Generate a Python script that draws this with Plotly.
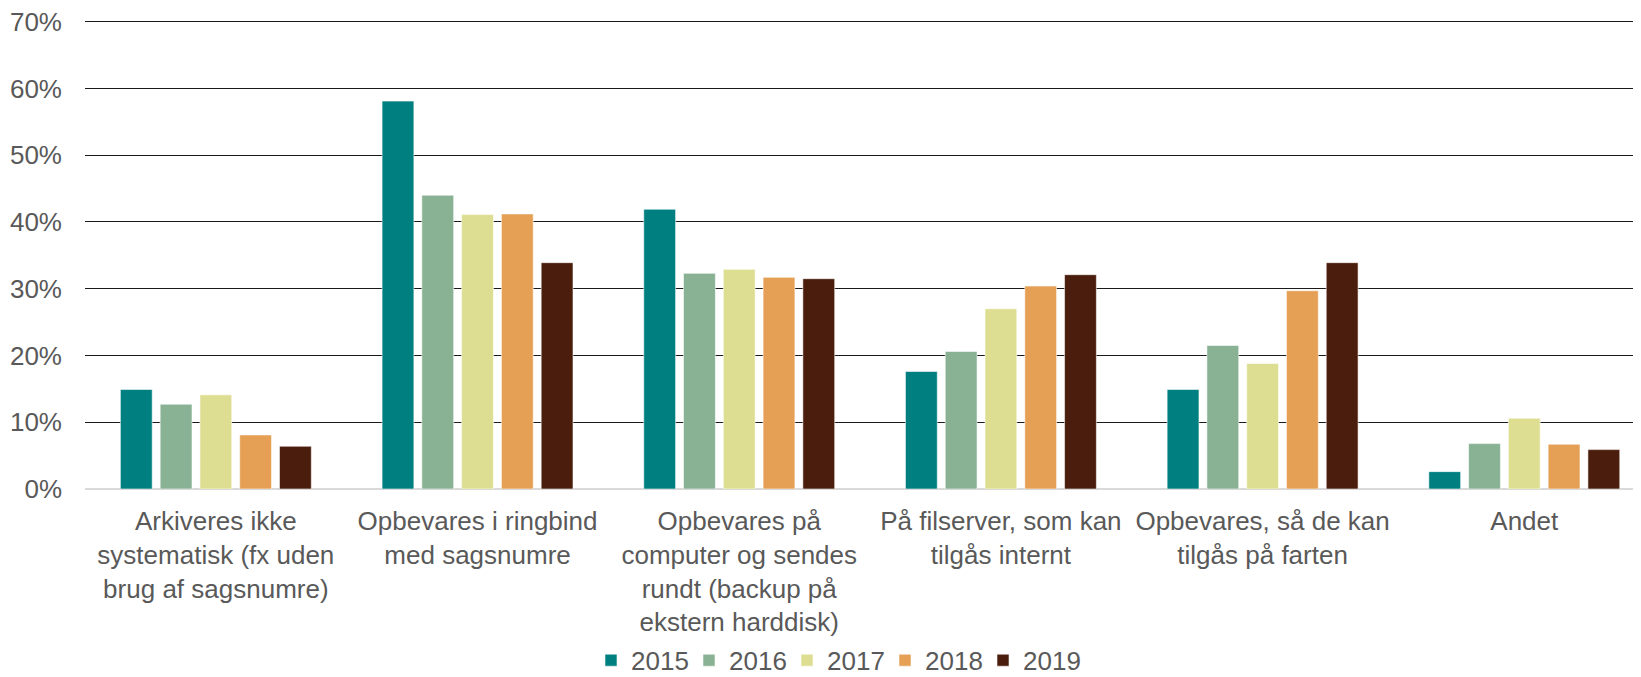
import plotly.graph_objects as go

categories = [
    "Arkiveres ikke<br>systematisk (fx uden<br>brug af sagsnumre)",
    "Opbevares i ringbind<br>med sagsnumre",
    "Opbevares på<br>computer og sendes<br>rundt (backup på<br>ekstern harddisk)",
    "På filserver, som kan<br>tilgås internt",
    "Opbevares, så de kan<br>tilgås på farten",
    "Andet",
]

years = ["2015", "2016", "2017", "2018", "2019"]

v2015 = [14.9, 58.1, 41.9, 17.6, 14.9, 2.6]
v2016 = [12.7, 44.0, 32.3, 20.6, 21.5, 6.8]
v2017 = [14.1, 41.1, 32.9, 27.0, 18.8, 10.6]
v2018 = [8.1, 41.2, 31.7, 30.4, 29.7, 6.7]
v2019 = [6.4, 33.9, 31.5, 32.1, 33.9, 5.9]

y_ticks = [0, 10, 20, 30, 40, 50, 60, 70]
y_labels = ["0%", "10%", "20%", "30%", "40%", "50%", "60%", "70%"]

series = [v2015, v2016, v2017, v2018, v2019]
colors = ["#007F80", "#89B193", "#DEDE93", "#E5A055", "#4A1D0C"]

fig = go.Figure()
for i, (year, vals, col) in enumerate(zip(years, series, colors)):
    fig.add_trace(go.Bar(
        x=categories, y=vals, name=year,
        marker=dict(color=col, line=dict(color="rgba(255,255,255,0.55)", width=1)),
        # tighter legend entries, last one wide enough not to get clipped
        legendwidth=62 if i == len(years) - 1 else 53,
    ))

# the page body keeps its default 8px margin, so the figure is 8px smaller
fig.update_layout(
    width=1633, height=669,
    margin=dict(l=77, r=0, t=7, b=188),
    plot_bgcolor="white", paper_bgcolor="white",
    barmode="group", bargap=0.24, bargroupgap=0.2,
    font=dict(family="Liberation Sans, Arial, sans-serif", size=26, color="#595959"),
    showlegend=True,
    legend=dict(orientation="h", x=0.3252, xanchor="left",
                yref="container", y=0.025, yanchor="middle",
                font=dict(size=26, color="#595959"), itemwidth=30, traceorder="normal"),
)

fig.update_yaxes(
    range=[0, 71], tickmode="array", tickvals=y_ticks, ticktext=y_labels,
    showgrid=True, gridcolor="#1a1a1a", gridwidth=1,
    zeroline=True, zerolinecolor="#D9D9D9", zerolinewidth=2,
    showline=False, ticklabelstandoff=22, automargin=False,
    ticklabeloverflow="allow",
)
fig.update_xaxes(
    range=[-0.5, 5.446], showgrid=False, showline=False,
    ticklabelstandoff=14, tickangle=0, automargin=False,
)

fig.write_html("out.html")
